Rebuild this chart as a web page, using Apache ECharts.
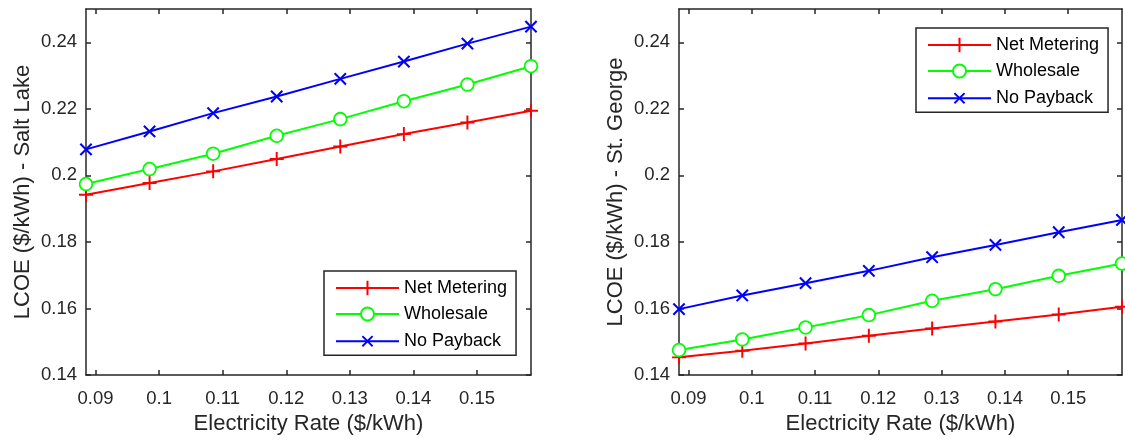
<!DOCTYPE html>
<html><head><meta charset="utf-8">
<script src="https://cdn.jsdelivr.net/npm/echarts@6/dist/echarts.min.js"></script>
<style>html,body{margin:0;padding:0;background:#fff}#c{width:1125px;height:441px}</style>
</head><body><div id="c"></div>
<script>
// ---- data ----
const rates = [0.0885, 0.0985, 0.1085, 0.1185, 0.1285, 0.1385, 0.1485, 0.1585];
const xTicks = [0.09, 0.10, 0.11, 0.12, 0.13, 0.14, 0.15];
const yTicks = [0.14, 0.16, 0.18, 0.20, 0.22, 0.24];
const seriesNames = ['Net Metering', 'Wholesale', 'No Payback'];
const yTitles = ['LCOE ($/kWh) - Salt Lake', 'LCOE ($/kWh) - St. George'];
const xTitle = 'Electricity Rate ($/kWh)';
const saltNet       = [0.1942, 0.1977, 0.2012, 0.2049, 0.2087, 0.2124, 0.2159, 0.2194];
const saltWholesale = [0.1974, 0.2019, 0.2065, 0.2119, 0.2169, 0.2223, 0.2273, 0.2328];
const saltNoPayback = [0.2078, 0.2132, 0.2187, 0.2237, 0.2290, 0.2342, 0.2396, 0.2447];
const stgNet        = [0.1453, 0.1473, 0.1495, 0.1518, 0.1540, 0.1561, 0.1582, 0.1605];
const stgWholesale  = [0.1475, 0.1507, 0.1543, 0.1580, 0.1623, 0.1658, 0.1698, 0.1735];
const stgNoPayback  = [0.1598, 0.1639, 0.1676, 0.1713, 0.1754, 0.1791, 0.1829, 0.1866];

// ---- styling ----
const FONT = '"Liberation Sans", Arial, Helvetica, sans-serif';
const AX = '#262626';
const colors = ['#ff0000', '#00ff00', '#0000ff'];
const PLUS = 'path://M-0.14,-1H0.14V-0.14H1V0.14H0.14V1H-0.14V0.14H-1V-0.14H-0.14Z';
const CROSS = 'path://M-0.13,-1H0.13V-0.13H1V0.13H0.13V1H-0.13V0.13H-1V-0.13H-0.13Z';
const RING = 'path://M-1.1,-1.1M1.1,1.1M1,0A1,1,0,1,1,-1,0A1,1,0,1,1,1,0Z';
const symbols = [PLUS, RING, CROSS];
const sizes = [14, 14, 16];
const rotations = [0, 0, 45];
const fmt = v => String(+(+v).toFixed(4));

const grids = [
  {left: 86, right: 594, top: 9, bottom: 66},
  {left: 679, right: 3, top: 9, bottom: 66}
];

const xAxes = [], yAxes = [];
[0, 1].forEach(gi => {
  ['bottom', 'top'].forEach(pos => {
    const main = pos === 'bottom';
    xAxes.push({
      type: 'value', gridIndex: gi, position: pos, min: 0.0885, max: 0.1585,
      name: main ? xTitle : '', nameLocation: 'middle', nameGap: 38,
      nameTextStyle: {fontFamily: FONT, fontSize: 22, color: AX},
      axisLine: {show: true, onZero: false, lineStyle: {color: AX, width: 1.5}},
      axisTick: {show: true, inside: true, length: 5, customValues: xTicks, lineStyle: {color: AX, width: 1.5}},
      axisLabel: {show: main, customValues: xTicks, margin: 14, formatter: fmt,
                  fontFamily: FONT, fontSize: 18.5, color: AX},
      splitLine: {show: false}
    });
  });
  ['left', 'right'].forEach(pos => {
    const main = pos === 'left';
    yAxes.push({
      type: 'value', gridIndex: gi, position: pos, min: 0.14, max: 0.25,
      name: main ? yTitles[gi] : '', nameLocation: 'middle', nameGap: 52, nameRotate: 90,
      nameTextStyle: {fontFamily: FONT, fontSize: 22, color: AX},
      axisLine: {show: true, onZero: false, lineStyle: {color: AX, width: 1.5}},
      axisTick: {show: true, inside: true, length: 5, customValues: yTicks, lineStyle: {color: AX, width: 1.5}},
      axisLabel: {show: main, customValues: yTicks, margin: 9, formatter: fmt,
                  fontFamily: FONT, fontSize: 18.5, color: AX},
      splitLine: {show: false}
    });
  });
});

const groups = [[saltNet, saltWholesale, saltNoPayback], [stgNet, stgWholesale, stgNoPayback]];
const series = [];
groups.forEach((g, gi) => {
  g.forEach((vals, si) => {
    const ring = si === 1;
    series.push({
      type: 'line', name: seriesNames[si],
      xAxisIndex: gi * 2, yAxisIndex: gi * 2,
      data: rates.map((x, i) => [x, vals[i]]),
      symbol: symbols[si], symbolSize: sizes[si], symbolRotate: rotations[si],
      showAllSymbol: true, clip: false, animation: false,
      lineStyle: {color: colors[si], width: 2},
      itemStyle: ring ? {color: '#fff', borderColor: colors[si], borderWidth: 1.8}
                      : {color: colors[si], borderWidth: 0}
    });
  });
});

const legendBase = {
  orient: 'vertical', align: 'left', data: seriesNames,
  backgroundColor: '#fff', borderColor: AX, borderWidth: 1.5,
  padding: [8, 9, 4, 11], itemWidth: 63, itemHeight: 18, itemGap: 8, itemTextGap: 6,
  textStyle: {fontFamily: FONT, fontSize: 18, color: '#000'},
  selectedMode: false
};
const legends = [
  Object.assign({}, legendBase, {left: 324, top: 271}),
  Object.assign({}, legendBase, {left: 916, top: 28})
];

const chart = echarts.init(document.getElementById('c'), null, {renderer: 'canvas'});
chart.setOption({
  animation: false,
  backgroundColor: '#fff',
  grid: grids, xAxis: xAxes, yAxis: yAxes, series: series, legend: legends
});
</script>
</body></html>
